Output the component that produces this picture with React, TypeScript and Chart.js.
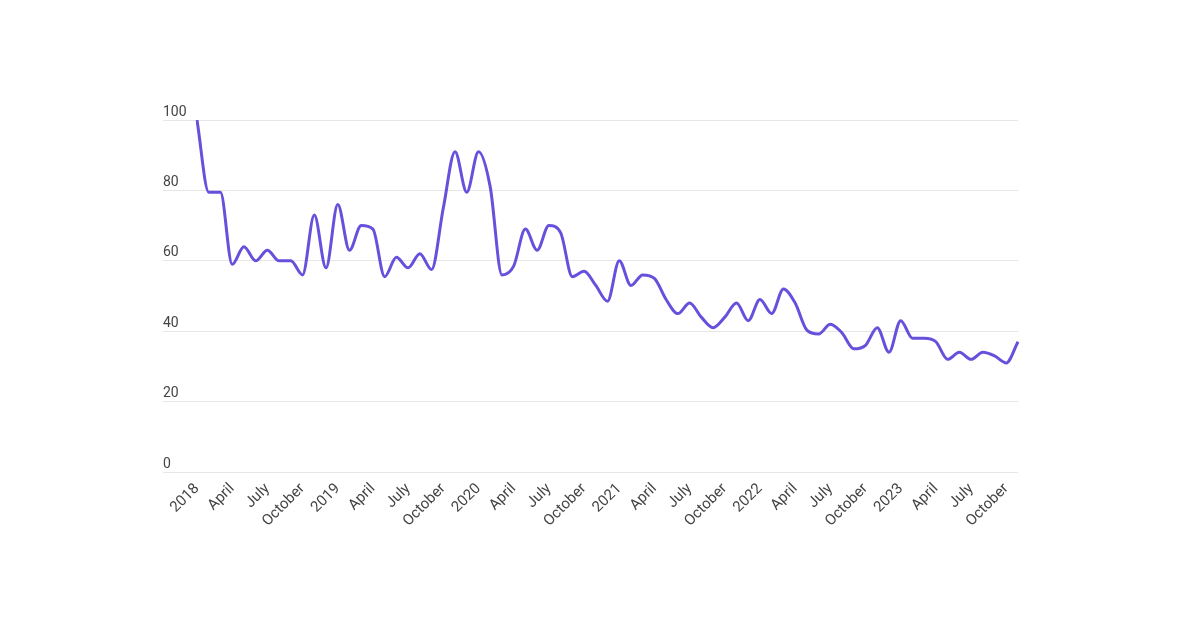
import React, { useEffect, useRef } from "react";
import { Chart, registerables } from "chart.js";

Chart.register(...registerables);

const years = ["2018", "2019", "2020", "2021", "2022", "2023"];
const months = ["Jan", "Feb", "Mar", "Apr", "May", "Jun", "Jul", "Aug", "Sep", "Oct", "Nov", "Dec"];

const categories: string[] = [];
years.forEach((y) => months.forEach((m) => categories.push(m + " " + y)));
const monthLabels = categories.slice(0, 71); // Jan 2018 – Nov 2023

const values = [
  100, 79.5, 79.5, 59, 64, 60, 63, 60, 60, 56, 73, 58,
  76, 63, 70, 69, 55.5, 61, 58, 62, 57.5, 75, 91, 79.5,
  91, 81, 56, 58.5, 69, 63, 70, 68, 55.5, 57, 53, 48.5,
  60, 53, 56, 55, 49, 45, 48, 44, 41, 44, 48, 43,
  49, 45, 52, 48, 40.3, 39.2, 42, 39.5, 35, 36, 41, 34,
  43, 38, 38, 37, 32, 34, 32, 34, 33, 31, 37,
];

const tickLabels = [
  "2018", "April", "July", "October",
  "2019", "April", "July", "October",
  "2020", "April", "July", "October",
  "2021", "April", "July", "October",
  "2022", "April", "July", "October",
  "2023", "April", "July", "October",
];

const yTicks = [0, 20, 40, 60, 80, 100];

export default function App() {
  const ref = useRef<HTMLCanvasElement | null>(null);

  useEffect(() => {
    if (!ref.current) return;
    const chart = new Chart(ref.current, {
      type: "line",
      data: {
        labels: monthLabels,
        datasets: [
          {
            data: values,
            borderColor: "#6650dc",
            borderWidth: 3,
            pointRadius: 0,
            fill: false,
            cubicInterpolationMode: "monotone",
          },
        ],
      },
      options: {
        animation: false,
        responsive: true,
        maintainAspectRatio: false,
        layout: { padding: { left: 163, right: 182, top: 120, bottom: 56 } },
        plugins: { legend: { display: false }, tooltip: { enabled: false } },
        scales: {
          x: {
            grid: { display: false, drawTicks: false },
            border: { display: false },
            afterFit: (s: any) => {
              s.height = 100;
            },
            ticks: {
              autoSkip: false,
              maxRotation: 45,
              minRotation: 45,
              padding: 8,
              color: "#444444",
              font: { family: "Roboto", size: 15 },
              callback: (_v: any, i: number) => (i % 3 === 0 ? tickLabels[i / 3] : ""),
            },
          },
          y: {
            min: yTicks[0],
            max: yTicks[yTicks.length - 1],
            grid: { color: "#e6e6e6", lineWidth: 1, tickLength: 34 },
            border: { display: false },
            afterFit: (s: any) => {
              s.width = 34;
            },
            ticks: {
              stepSize: 20,
              crossAlign: "far",
              padding: 0,
              labelOffset: -8,
              color: "#444444",
              font: { family: "Roboto", size: 14 },
            },
          },
        },
      },
    });
    return () => chart.destroy();
  }, []);

  return (
    <div style={{ position: "fixed", left: 0, top: 0, width: 1200, height: 628, background: "#fff" }}>
      <canvas ref={ref} />
    </div>
  );
}
